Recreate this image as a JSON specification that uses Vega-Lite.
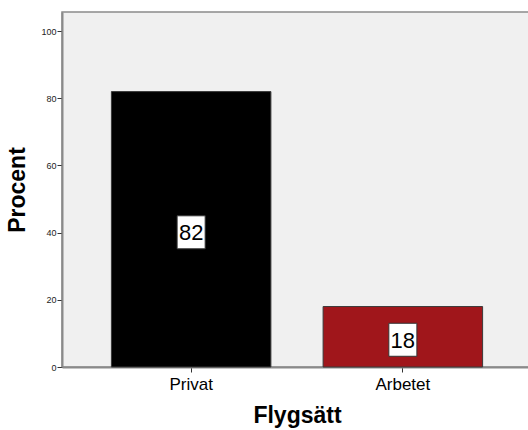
{
  "$schema": "https://vega.github.io/schema/vega-lite/v6.json",
  "autosize": {"type": "none"},
  "width": 470,
  "height": 355,
  "padding": {"left": 62, "top": 12, "right": 0, "bottom": 63},
  "background": "white",
  "config": {
    "font": "Liberation Sans",
    "view": {"fill": "#F0F0F0", "stroke": "#8A8A8A", "strokeWidth": 1.5}
  },
  "data": {
    "values": [
      {"Flygsatt": "Privat", "Procent": 82},
      {"Flygsatt": "Arbetet", "Procent": 18}
    ]
  },
  "encoding": {
    "x": {
      "field": "Flygsatt",
      "type": "nominal",
      "sort": ["Privat", "Arbetet"],
      "scale": {"paddingInner": 0.2466, "paddingOuter": 0.2333},
      "axis": {
        "title": "Flygsätt",
        "titleFont": "Liberation Sans",
        "titleFontSize": 23,
        "titleFontWeight": "bold",
        "titleColor": "#000000",
        "titlePadding": 12,
        "labelAngle": 0,
        "labelFontSize": 17,
        "labelColor": "#000000",
        "labelPadding": 4,
        "tickColor": "#333333",
        "tickSize": 5,
        "domainColor": "#8A8A8A",
        "domainWidth": 2,
        "grid": false
      }
    }
  },
  "layer": [
    {
      "mark": {"type": "bar", "stroke": "#3A3A3A", "strokeWidth": 1},
      "encoding": {
        "y": {
          "field": "Procent",
          "type": "quantitative",
          "scale": {"domain": [0, 105.7], "nice": false, "zero": true},
          "axis": {
            "title": "Procent",
            "titleFontSize": 23,
            "titleFontWeight": "bold",
            "titleColor": "#000000",
            "titlePadding": 11,
            "values": [0, 20, 40, 60, 80, 100],
            "labelFontSize": 9,
            "labelColor": "#222222",
            "labelPadding": 1,
            "tickColor": "#333333",
            "tickSize": 5,
            "domainColor": "#8A8A8A",
            "domainWidth": 2,
            "grid": false
          }
        },
        "color": {
          "field": "Flygsatt",
          "type": "nominal",
          "scale": {"domain": ["Privat", "Arbetet"], "range": ["#000000", "#A0161B"]},
          "legend": null
        }
      }
    },
    {
      "transform": [{"calculate": "datum.Procent / 2", "as": "mitt"}],
      "mark": {
        "type": "point",
        "shape": "M-0.85,-1L0.85,-1L0.85,1L-0.85,1Z",
        "size": 1089,
        "filled": true,
        "fill": "#FFFFFF",
        "stroke": "#333333",
        "strokeWidth": 1,
        "opacity": 1,
        "yOffset": 3
      },
      "encoding": {
        "y": {"field": "mitt", "type": "quantitative"}
      }
    },
    {
      "transform": [{"calculate": "datum.Procent / 2", "as": "mitt"}],
      "mark": {
        "type": "text",
        "fontSize": 22,
        "color": "#000000",
        "baseline": "middle",
        "align": "center",
        "yOffset": 4
      },
      "encoding": {
        "y": {"field": "mitt", "type": "quantitative"},
        "text": {"field": "Procent", "type": "quantitative"}
      }
    }
  ]
}
